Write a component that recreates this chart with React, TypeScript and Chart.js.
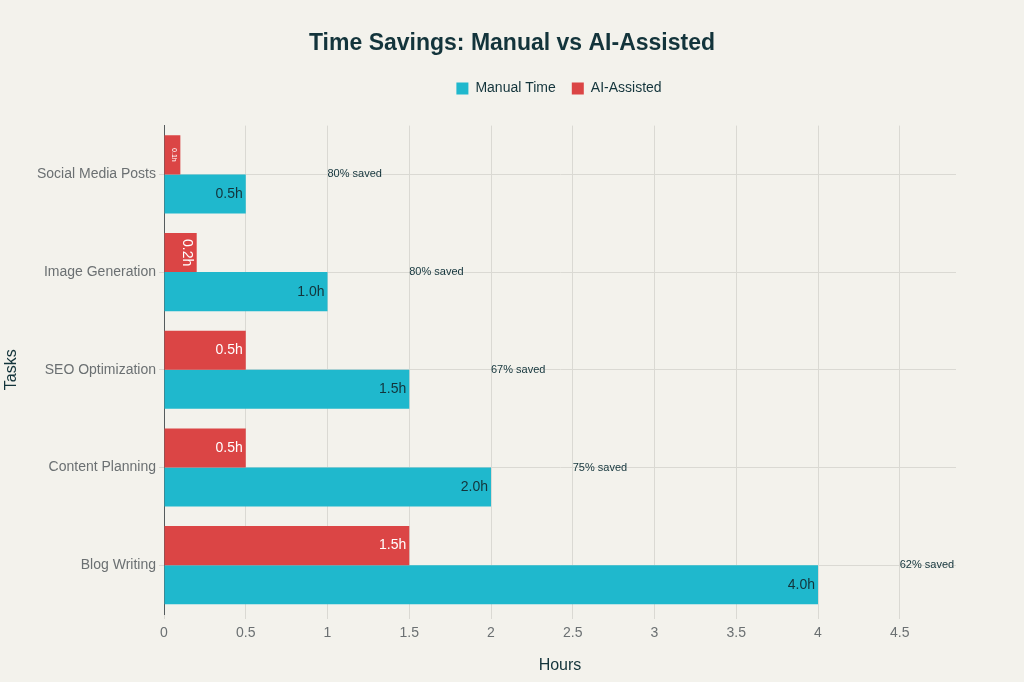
import { useEffect, useRef } from 'react'
import { Chart, registerables } from 'chart.js'

Chart.register(...registerables)

const tasks = ['Social Media Posts', 'Image Generation', 'SEO Optimization', 'Content Planning', 'Blog Writing']
const manualHours = [0.5, 1.0, 1.5, 2.0, 4.0]
const aiHours = [0.1, 0.2, 0.5, 0.5, 1.5]
const savedLabels = ['80% saved', '80% saved', '67% saved', '75% saved', '62% saved']
const hourTicks = [0, 0.5, 1, 1.5, 2, 2.5, 3, 3.5, 4, 4.5]

const FONT = '"Liberation Sans", Arial, sans-serif'
const DARK = '#13343B'
const GREY = '#6B7072'
const BG = '#F3F2EC'
const GRID = '#DAD9D3'

// shift title / legend to where the reference has them
const layoutShift = {
  id: 'layoutShift',
  afterLayout(chart: any) {
    const t = chart.titleBlock
    if (t) {
      t.left += 34
      t.right += 34
    }
    const l = chart.legend
    if (l) {
      l.left += 81
      l.right += 81
      l.top -= 20
      l.bottom -= 20
    }
  },
}

// value labels inside bar ends, rotated when the bar is too short
const barLabels = {
  id: 'barLabels',
  afterDatasetsDraw(chart: any) {
    const ctx = chart.ctx
    chart.data.datasets.forEach((ds: any, di: number) => {
      const meta = chart.getDatasetMeta(di)
      meta.data.forEach((bar: any, i: number) => {
        const v = ds.data[i] as number
        const text = v.toFixed(1) + 'h'
        const { x, y, base } = bar.getProps(['x', 'y', 'base'], true)
        const w = Math.abs(x - base)
        ctx.save()
        ctx.fillStyle = di === 0 ? '#FFFFFF' : DARK
        ctx.font = `14px ${FONT}`
        const tw = ctx.measureText(text).width
        if (tw + 6 <= w) {
          ctx.textAlign = 'right'
          ctx.textBaseline = 'middle'
          ctx.fillText(text, x - 3, y)
        } else {
          const fs = Math.max(6, Math.floor(Math.min(14, (w - 6) / 1.25)))
          ctx.font = `${fs}px ${FONT}`
          ctx.translate(x - 3 - fs / 2, y)
          ctx.rotate(Math.PI / 2)
          ctx.textAlign = 'center'
          ctx.textBaseline = 'middle'
          ctx.fillText(text, 0, 0)
        }
        ctx.restore()
      })
    })
  },
}

// "xx% saved" notes to the right of each manual bar
const NOTE_OFFSET = 0.5
const savedNotes = {
  id: 'savedNotes',
  afterDatasetsDraw(chart: any) {
    const ctx = chart.ctx
    const xs = chart.scales.x
    const ys = chart.scales.y
    ctx.save()
    ctx.font = `11px ${FONT}`
    ctx.fillStyle = DARK
    ctx.textAlign = 'left'
    ctx.textBaseline = 'middle'
    savedLabels.forEach((txt, i) => {
      ctx.fillText(txt, xs.getPixelForValue(manualHours[i] + NOTE_OFFSET), ys.getPixelForValue(i))
    })
    ctx.restore()
  },
}

function TimeSavingsChart() {
  const chartRef = useRef<HTMLCanvasElement>(null)
  const chartInstance = useRef<Chart | null>(null)

  useEffect(() => {
    if (!chartRef.current) return
    const ctx = chartRef.current.getContext('2d')
    if (!ctx) return

    if (chartInstance.current) {
      chartInstance.current.destroy()
    }

    Chart.defaults.font.family = FONT

    chartInstance.current = new Chart(ctx, {
      type: 'bar',
      data: {
        labels: tasks,
        datasets: [
          {
            label: 'AI-Assisted',
            data: aiHours,
            backgroundColor: '#DB4545',
            borderWidth: 0,
            barPercentage: 1,
            categoryPercentage: 0.8,
          },
          {
            label: 'Manual Time',
            data: manualHours,
            backgroundColor: '#1FB8CD',
            borderWidth: 0,
            barPercentage: 1,
            categoryPercentage: 0.8,
          },
        ],
      },
      options: {
        indexAxis: 'y',
        animation: false,
        responsive: true,
        maintainAspectRatio: false,
        layout: { padding: { left: 0, right: 68, top: 0, bottom: 0 } },
        scales: {
          x: {
            type: 'linear',
            min: 0,
            max: 4.844,
            afterFit: (scale: any) => {
              scale.height = 68
            },
            afterBuildTicks: (scale: any) => {
              scale.ticks = hourTicks.map(v => ({ value: v }))
            },
            ticks: {
              color: GREY,
              font: { size: 14 },
              padding: 6,
              callback: (v: any) => String(v),
            },
            grid: { color: GRID, tickLength: 5, tickColor: GRID },
            border: { display: false },
            title: {
              display: true,
              text: 'Hours',
              color: DARK,
              font: { size: 16 },
              padding: { top: 4, bottom: 7 },
            },
          },
          y: {
            type: 'category',
            afterFit: (scale: any) => {
              scale.width = 164
            },
            ticks: { color: GREY, font: { size: 14 }, padding: 3 },
            grid: { color: GRID, offset: false, tickLength: 5, tickColor: GRID },
            border: { display: true, color: '#555B5D', width: 1 },
            title: {
              display: true,
              text: 'Tasks',
              color: DARK,
              font: { size: 16 },
              padding: { top: 2, bottom: 0 },
            },
          },
        },
        plugins: {
          title: {
            display: true,
            text: 'Time Savings: Manual vs AI-Assisted',
            color: DARK,
            font: { size: 23, weight: 'bold' },
            padding: { top: 30, bottom: 28 },
          },
          legend: {
            display: true,
            position: 'top',
            reverse: true,
            labels: {
              color: DARK,
              font: { size: 14 },
              boxWidth: 12,
              boxHeight: 12,
              padding: 16,
            },
          },
          tooltip: { enabled: false },
        },
      },
      plugins: [layoutShift, barLabels, savedNotes],
    })

    return () => {
      if (chartInstance.current) {
        chartInstance.current.destroy()
        chartInstance.current = null
      }
    }
  }, [])

  return <canvas ref={chartRef} />
}

export default function App() {
  useEffect(() => {
    document.body.style.margin = '0'
    document.body.style.background = BG
  }, [])

  return (
    <div style={{ position: 'fixed', left: 0, top: 0, width: 1024, height: 682, background: BG }}>
      <TimeSavingsChart />
    </div>
  )
}
